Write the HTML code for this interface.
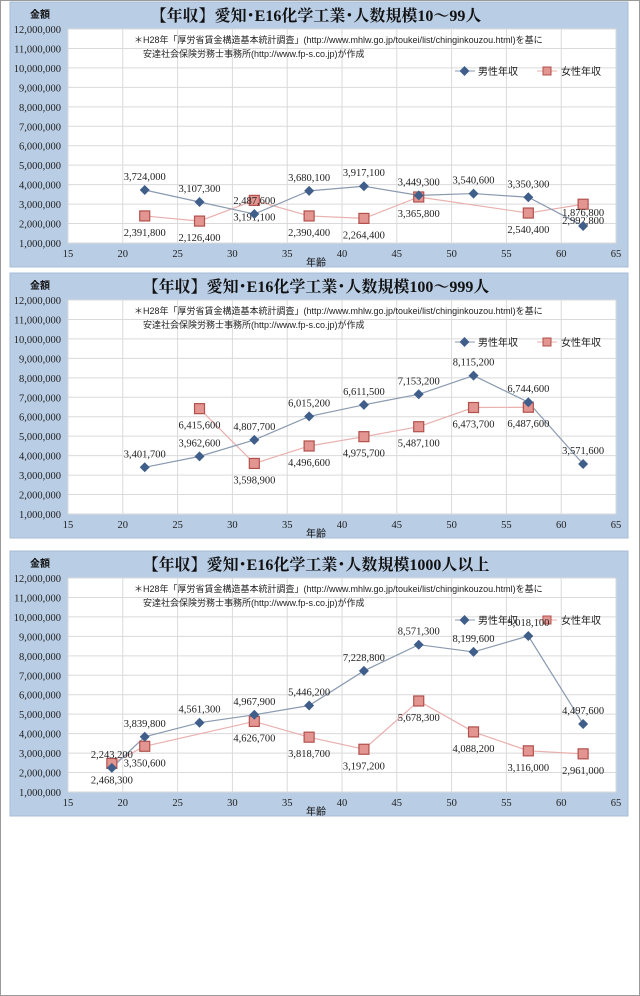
<!DOCTYPE html>
<html><head><meta charset="utf-8">
<style>
html,body{margin:0;padding:0;background:#fff;}
body{width:640px;height:996px;overflow:hidden;position:relative;}
#frame{position:absolute;left:0;top:0;width:638px;height:994px;border:1px solid #9a9a9a;}
svg{position:absolute;left:0;top:0;}
text{font-family:"Liberation Serif","Noto Serif CJK SC",serif;}
.jp{font-family:"Liberation Sans","Noto Sans CJK JP",sans-serif;}
</style></head>
<body>
<div id="frame"></div>
<svg id="chart" width="640" height="996"></svg>
<script>
// Chart 1: 10-99 employees
const ages1M = [22,27,32,37,42,47,52,57,62];
const male1 = [3724000,3107300,2487600,3680100,3917100,3449300,3540600,3350300,1876800];
const ages1F = [22,27,32,37,42,47,57,62];
const female1 = [2391800,2126400,3191100,2390400,2264400,3365800,2540400,2992800];
// Chart 2: 100-999 employees
const ages2M = [22,27,32,37,42,47,52,57,62];
const male2 = [3401700,3962600,4807700,6015200,6611500,7153200,8115200,6744600,3571600];
const ages2F = [27,32,37,42,47,52,57];
const female2 = [6415600,3598900,4496600,4975700,5487100,6473700,6487600];
// Chart 3: 1000+ employees
const ages3M = [19,22,27,32,37,42,47,52,57,62];
const male3 = [2243200,3839800,4561300,4967900,5446200,7228800,8571300,8199600,9018100,4497600];
const ages3F = [19,22,32,37,42,47,52,57,62];
const female3 = [2468300,3350600,4626700,3818700,3197200,5678300,4088200,3116000,2961000];
// Axes
const yTicks = [1000000,2000000,3000000,4000000,5000000,6000000,7000000,8000000,9000000,10000000,11000000,12000000];
const xTicks = [15,20,25,30,35,40,45,50,55,60,65];
const titles = ["【年収】愛知･E16化学工業･人数規模10～99人","【年収】愛知･E16化学工業･人数規模100～999人","【年収】愛知･E16化学工業･人数規模1000人以上"];

const NS="http://www.w3.org/2000/svg";
const svg=document.getElementById('chart');
function mk(tag,attrs,parent,txt){const e=document.createElementNS(NS,tag);for(const k in attrs)e.setAttribute(k,attrs[k]);if(txt!==undefined)e.textContent=txt;(parent||svg).appendChild(e);return e;}
function fmt(v){return v.toLocaleString('en-US');}

function panel(idx,top,ages,male,agesF,female){
  const g=mk('g',{});
  
  
  const L=68,R=616,T=top+27,B=top+241;
  const xs=a=>L+(a-15)/50*(R-L);
  const ys=v=>B-(v-1000000)/11000000*(B-T);
  const bg=mk('rect',{x:10,y:top,width:618,height:265,fill:'#b9cde5',stroke:'#a8bcd6'},g);
  
  
  mk('rect',{x:L,y:T,width:R-L,height:B-T,fill:'#fff'},g);
  yTicks.forEach(v=>{
    mk('line',{x1:L,x2:R,y1:ys(v),y2:ys(v),stroke:'#dadada','stroke-width':1},g);
    const t=mk('text',{x:61,y:ys(v)+4,'font-size':10.5,'text-anchor':'end',fill:'#222'},g,fmt(v));
    
    
  });
  xTicks.forEach(a=>{
    mk('line',{x1:xs(a),x2:xs(a),y1:T,y2:B,stroke:'#dadada','stroke-width':1},g);
    const t=mk('text',{x:xs(a),y:B+14,'font-size':10.5,'text-anchor':'middle',fill:'#222'},g,a);
    
    
  });
  const ti=mk('text',{x:316,y:top+19,'font-size':16,'font-weight':'bold','text-anchor':'middle',fill:'#111'},g,titles[idx]);
  
  
  const yt=mk('text',{x:40,y:top+16,'font-size':10,'font-weight':'bold','text-anchor':'middle',fill:'#111',class:'jp'},g,'金額');
  
  
  const xt=mk('text',{x:316,y:B+23,'font-size':10,'text-anchor':'middle',fill:'#111',class:'jp'},g,'年齢');
  
  
  const n1=mk('text',{x:134,y:T+14,'font-size':9,fill:'#222',class:'jp'},g,'＊H28年「厚労省賃金構造基本統計調査」(http://www.mhlw.go.jp/toukei/list/chinginkouzou.html)を基に');
  
  
  const n2=mk('text',{x:143,y:T+28,'font-size':9,fill:'#222',class:'jp'},g,'安達社会保険労務士事務所(http://www.fp-s.co.jp)が作成');
  
  
  const ly=top+69;
  const lg=mk('g',{},g);
  
  
  mk('line',{x1:455,x2:475,y1:ly,y2:ly,stroke:'#8a9ab0'},lg);
  mk('rect',{x:461,y:ly-3.5,width:7,height:7,fill:'#3f5f8a',transform:`rotate(45 ${464.5} ${ly})`},lg);
  mk('text',{x:478,y:ly+4,'font-size':10,fill:'#222',class:'jp'},lg,'男性年収');
  mk('line',{x1:537,x2:557,y1:ly,y2:ly,stroke:'#e8b0ae'},lg);
  mk('rect',{x:543,y:ly-4,width:8,height:8,fill:'#e39591',stroke:'#b2504c'},lg);
  mk('text',{x:561,y:ly+4,'font-size':10,fill:'#222',class:'jp'},lg,'女性年収');
  let d='';agesF.forEach((a,i)=>{d+=(i?'L':'M')+xs(a)+' '+ys(female[i]);});
  const fl=mk('path',{d:d,fill:'none',stroke:'#e8b0ae','stroke-width':1.2},g);
  
  
  d='';ages.forEach((a,i)=>{d+=(i?'L':'M')+xs(a)+' '+ys(male[i]);});
  const ml=mk('path',{d:d,fill:'none',stroke:'#8a9ab0','stroke-width':1.2},g);
  
  
  agesF.forEach((a,i)=>{
    const r=mk('rect',{x:xs(a)-5,y:ys(female[i])-5,width:10,height:10,fill:'#e39591',stroke:'#b2504c','stroke-width':1.2},g);
    
    
    const t=mk('text',{x:xs(a),y:ys(female[i])+20,'font-size':10.5,'text-anchor':'middle',fill:'#222'},g,fmt(female[i]));
    
    
  });
  ages.forEach((a,i)=>{
    const x=xs(a),y=ys(male[i]);
    const p=mk('polygon',{points:`${x},${y-5} ${x+5},${y} ${x},${y+5} ${x-5},${y}`,fill:'#3f5f8a'},g);
    
    
    const t=mk('text',{x:x,y:y-10,'font-size':10.5,'text-anchor':'middle',fill:'#222'},g,fmt(male[i]));
    
    
  });
}
panel(0,2,ages1M,male1,ages1F,female1);
panel(1,273,ages2M,male2,ages2F,female2);
panel(2,551,ages3M,male3,ages3F,female3);
</script>
</body></html>
